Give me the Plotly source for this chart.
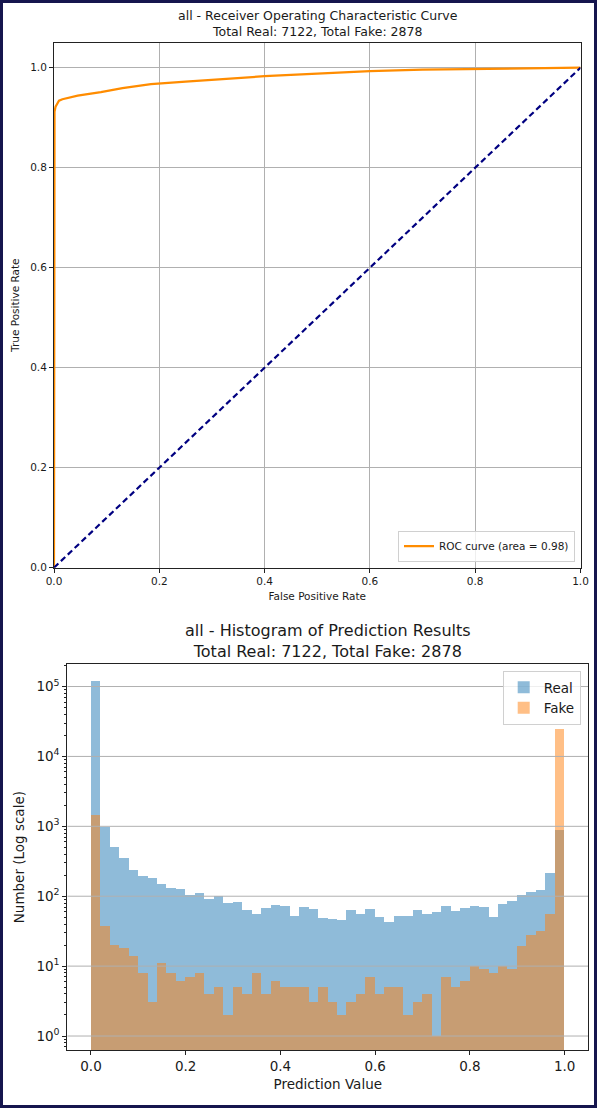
import plotly.graph_objects as go

# ---- ROC curve data ----
fpr = [0.0, 0.0, 0.001, 0.003, 0.006, 0.0095, 0.016, 0.025, 0.045, 0.07, 0.089,
       0.13, 0.184, 0.25, 0.3, 0.4, 0.5, 0.6, 0.7, 0.8, 0.9, 1.0]
tpr = [0.0, 0.88, 0.912, 0.922, 0.929, 0.934, 0.937, 0.939, 0.944, 0.948, 0.951,
       0.959, 0.967, 0.972, 0.976, 0.983, 0.988, 0.993, 0.996, 0.997, 0.999, 1.0]
roc_auc = 0.98
total_real = 7122
total_fake = 2878

# ---- histogram counts (50 bins on [0, 1]) ----
bin_width = 0.02
real_counts = [117000, 955, 494, 349, 237, 194, 180, 148, 130, 125,
               103, 110, 89, 101, 79, 81, 62, 56, 67, 74,
               71, 51, 69, 64, 48, 47, 45, 63, 56, 66,
               50, 43, 52, 51, 63, 55, 59, 72, 61, 67,
               71, 70, 50, 76, 85, 102, 114, 123, 215, 885]
fake_counts = [1420, 37, 20, 18, 14, 8, 3, 11, 8, 6,
               7, 8, 4, 5, 2, 5, 4, 8, 4, 6,
               5, 5, 5, 3, 5, 3, 2, 3, 4, 7,
               4, 5, 5, 2, 3, 4, 1, 7, 5, 6,
               10, 9, 8, 10, 9, 19, 28, 32, 55, 24400]
x_ticks = [0.0, 0.2, 0.4, 0.6, 0.8, 1.0]
log_ticks = [1, 10, 100, 1000, 10000, 100000]
log_tick_text = ["10<sup>%d</sup>" % i for i in range(6)]

W, H = 597, 1108
FONT = "DejaVu Sans"
GRID = "#b0b0b0"
HIST_XRANGE = [-0.05, 1.05]


def px_x(p):
    return p / W


def px_y(p):
    return 1 - p / H


centers = [(i + 0.5) * bin_width for i in range(len(real_counts))]

fig = go.Figure()

# ROC curve + chance diagonal
fig.add_trace(go.Scatter(x=fpr, y=tpr, mode="lines",
                         line=dict(color="#ff8c00", width=2.2),
                         name="ROC curve (area = %.2f)" % roc_auc,
                         xaxis="x", yaxis="y", legend="legend"))
fig.add_trace(go.Scatter(x=[0, 1], y=[0, 1], mode="lines",
                         line=dict(color="navy", width=2.2, dash="6px,3.5px"),
                         showlegend=False, xaxis="x", yaxis="y"))

# overlapping half-transparent histograms
fig.add_trace(go.Bar(x=centers, y=real_counts, width=bin_width, name="Real",
                     marker=dict(color="rgba(31,119,180,0.5)", line=dict(width=0)),
                     xaxis="x2", yaxis="y2", legend="legend2"))
fig.add_trace(go.Bar(x=centers, y=fake_counts, width=bin_width, name="Fake",
                     marker=dict(color="rgba(255,127,14,0.5)", line=dict(width=0)),
                     xaxis="x2", yaxis="y2", legend="legend2"))

# horizontal grid drawn over the bars
gx, gy = [], []
for v in log_ticks:
    gx += [HIST_XRANGE[0], HIST_XRANGE[1], None]
    gy += [v, v, None]
fig.add_trace(go.Scatter(x=gx, y=gy, mode="lines", line=dict(color=GRID, width=1),
                         hoverinfo="skip", showlegend=False, xaxis="x2", yaxis="y2"))

axis_common = dict(showline=True, mirror=True, linecolor="#222", linewidth=1,
                   ticks="outside", ticklen=4, tickcolor="#222", zeroline=False,
                   automargin=False)

fig.update_layout(
    width=W, height=H,
    margin=dict(l=0, r=0, t=0, b=0),
    paper_bgcolor="white", plot_bgcolor="white",
    barmode="overlay", bargap=0,
    font=dict(family=FONT, color="#1a1a1a"),
    xaxis=dict(domain=[px_x(54), px_x(580.5)], range=[0, 1],
               tickvals=x_ticks, tickformat=".1f",
               showgrid=True, gridcolor=GRID, gridwidth=1,
               tickfont=dict(size=10.5), layer="below traces",
               title=dict(text="False Positive Rate", font=dict(size=10.5), standoff=6),
               anchor="y", **axis_common),
    yaxis=dict(domain=[px_y(567.7), px_y(42.7)], range=[0, 1.05],
               tickvals=x_ticks, tickformat=".1f",
               showgrid=True, gridcolor=GRID, gridwidth=1,
               tickfont=dict(size=10.5), layer="below traces",
               title=dict(text="True Positive Rate", font=dict(size=10.5), standoff=8),
               anchor="x", **axis_common),
    xaxis2=dict(domain=[px_x(67.3), px_x(588.3)], range=HIST_XRANGE,
                tickvals=x_ticks, tickformat=".1f", showgrid=False,
                tickfont=dict(size=13.5),
                title=dict(text="Prediction Value", font=dict(size=13.5), standoff=6),
                anchor="y2", **axis_common),
    yaxis2=dict(domain=[px_y(1050), px_y(664.3)], type="log", range=[-0.2, 5.318],
                tickvals=log_ticks, ticktext=log_tick_text,
                showgrid=False,
                tickfont=dict(size=13.5),
                minor=dict(ticks="outside", ticklen=2, tickcolor="#222",
                           dtick="D1", showgrid=False),
                title=dict(text="Number (Log scale)", font=dict(size=13.5), standoff=8),
                anchor="x2", **axis_common),
    legend=dict(x=px_x(575), y=px_y(561.7), xanchor="right", yanchor="bottom",
                bgcolor="rgba(255,255,255,0.8)", bordercolor="#d0d0d0", borderwidth=1,
                font=dict(size=10.5), itemwidth=30),
    legend2=dict(x=px_x(580.7), y=px_y(671), xanchor="right", yanchor="top",
                 bgcolor="rgba(255,255,255,0.8)", bordercolor="#d0d0d0", borderwidth=1,
                 font=dict(size=13.5), itemwidth=30, tracegroupgap=0),
    annotations=[
        dict(text="all - Receiver Operating Characteristic Curve<br>"
                  "Total Real: %d, Total Fake: %d" % (total_real, total_fake),
             x=px_x(317.5), y=px_y(24), xref="paper", yref="paper",
             xanchor="center", yanchor="middle", showarrow=False,
             font=dict(size=12.5)),
        dict(text="all - Histogram of Prediction Results<br>"
                  "Total Real: %d, Total Fake: %d" % (total_real, total_fake),
             x=px_x(327.8), y=px_y(641), xref="paper", yref="paper",
             xanchor="center", yanchor="middle", showarrow=False,
             font=dict(size=16)),
    ],
    shapes=[dict(type="rect", xref="paper", yref="paper",
                 x0=1.5 / W, x1=1 - 1.5 / W, y0=1.5 / H, y1=1 - 1.5 / H,
                 line=dict(color="#16164e", width=3))],
)

fig.write_html("out.html")
